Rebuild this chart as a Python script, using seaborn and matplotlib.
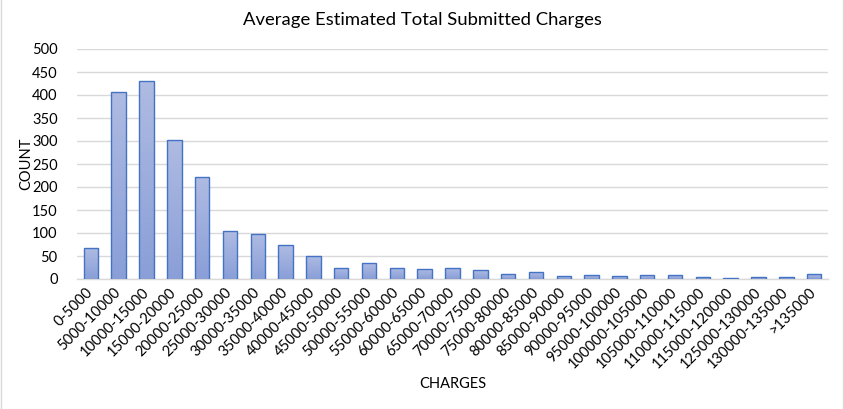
"""
Recreation of the Excel column chart "Average Estimated Total Submitted Charges".
"""
import numpy as np
import pandas as pd
import matplotlib
matplotlib.use("Agg")
import matplotlib.pyplot as plt
from matplotlib.colors import LinearSegmentedColormap
from matplotlib.lines import Line2D
import seaborn as sns

# faixas de valores (eixo X) e contagens
faixas = [
    "0-5000", "5000-10000", "10000-15000", "15000-20000", "20000-25000",
    "25000-30000", "30000-35000", "35000-40000", "40000-45000", "45000-50000",
    "50000-55000", "55000-60000", "60000-65000", "65000-70000", "70000-75000",
    "75000-80000", "80000-85000", "85000-90000", "90000-95000", "95000-100000",
    "100000-105000", "105000-110000", "110000-115000", "115000-120000",
    "125000-130000", "130000-135000", ">135000",
]
contagens = [
    67, 406, 430, 302, 221,
    104, 97, 73, 51, 25,
    34, 25, 21, 24, 19,
    10, 15, 6, 8, 6,
    8, 8, 4, 2,
    4, 4, 10,
]
y_ticks = [0, 50, 100, 150, 200, 250, 300, 350, 400, 450, 500]

TITULO = "Average Estimated Total Submitted Charges"
ROTULO_X = "CHARGES"
ROTULO_Y = "COUNT"

COR_BORDA = "#4472c4"
COR_GRADE = "#d9d9d9"

sns.set_theme(style="white")
plt.rcParams["font.family"] = ["Lato", "DejaVu Sans"]

df = pd.DataFrame({"faixa": faixas, "contagem": contagens})

fig = plt.figure(figsize=(8.45, 4.09), dpi=100)
ax = fig.add_axes([77 / 845, 1 - 279 / 409, (828 - 77) / 845, (279 - 49) / 409])

sns.barplot(data=df, x="faixa", y="contagem", ax=ax, width=0.52,
            color="#9aace0", edgecolor=COR_BORDA, linewidth=1.0, zorder=3)

# preenchimento em degrade (claro em cima, mais escuro embaixo), como no Excel
cmap = LinearSegmentedColormap.from_list("grad", ["#8a9fd8", "#aebbe2"])
grad = np.linspace(0, 1, 64).reshape(-1, 1)
for p in ax.patches:
    x0, y0 = p.get_x(), p.get_y()
    w, h = p.get_width(), p.get_height()
    if h <= 0:
        continue
    im = ax.imshow(grad, cmap=cmap, origin="lower", aspect="auto",
                   extent=[x0, x0 + w, y0, y0 + h], zorder=2.5)
    im.set_clip_path(p)
    p.set_facecolor("none")

ax.set_xlim(-0.5, len(faixas) - 0.5)
ax.set_ylim(0, 500)
ax.set_yticks(y_ticks)
ax.yaxis.grid(True, color=COR_GRADE, linewidth=1.0, zorder=0)
ax.set_axisbelow(True)
for s in ["top", "right", "left"]:
    ax.spines[s].set_visible(False)
ax.spines["bottom"].set_color(COR_GRADE)
ax.spines["bottom"].set_linewidth(1.0)

ax.tick_params(axis="both", length=0, colors="#000000")
ax.tick_params(axis="y", pad=14, labelsize=10.5)
ax.set_xticks(range(len(faixas)))
ax.set_xticklabels(faixas, rotation=45, ha="right", va="center",
                   rotation_mode="anchor", fontsize=10.5)
ax.tick_params(axis="x", pad=8)

ax.set_xlabel(ROTULO_X, fontsize=10.5, color="#000000")
ax.set_ylabel(ROTULO_Y, fontsize=10.5, color="#000000")
ax.xaxis.set_label_coords(0.5, -0.426)
ax.yaxis.set_label_coords(-0.0586, 0.5)

fig.text(422 / 845, 1 - 20 / 409, TITULO, ha="center", va="center",
         fontsize=13.3, color="#000000")

# borda clara do grafico nas laterais
fig.add_artist(Line2D([1.5 / 845, 1.5 / 845], [0, 1], color=COR_GRADE, lw=1.0))
fig.add_artist(Line2D([843.5 / 845, 843.5 / 845], [0, 1], color=COR_GRADE, lw=1.0))

fig.savefig("out.png", dpi=100)
plt.close(fig)
